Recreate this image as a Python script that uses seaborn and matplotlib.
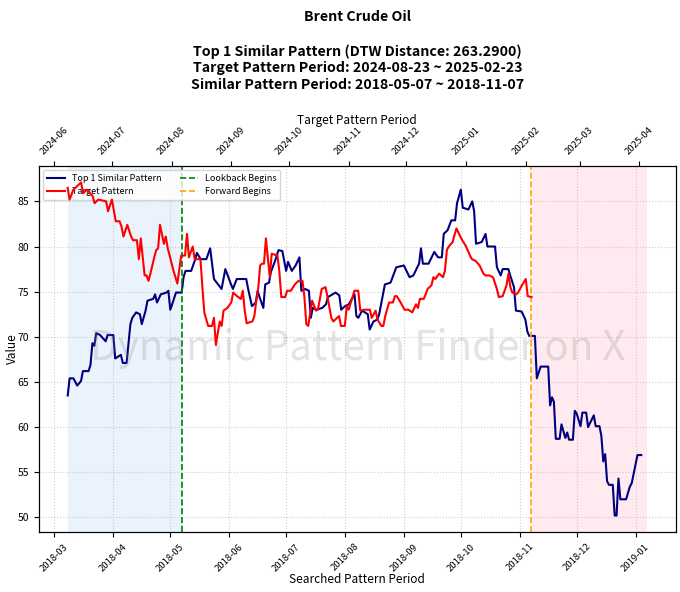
import matplotlib
matplotlib.use("Agg")
import matplotlib.pyplot as plt
import matplotlib.dates as mdates
import pandas as pd
import seaborn as sns

# searched (similar) pattern, 2018
similar_dates = [
    "2018-03-08", "2018-03-09", "2018-03-11", "2018-03-13", "2018-03-15", "2018-03-16",
    "2018-03-19", "2018-03-20", "2018-03-21", "2018-03-22", "2018-03-23", "2018-03-25",
    "2018-03-28", "2018-03-29", "2018-04-01", "2018-04-02", "2018-04-05", "2018-04-06",
    "2018-04-08", "2018-04-10", "2018-04-11", "2018-04-13", "2018-04-15", "2018-04-16",
    "2018-04-18", "2018-04-19", "2018-04-22", "2018-04-23", "2018-04-24", "2018-04-26",
    "2018-04-29", "2018-04-30", "2018-05-01", "2018-05-02", "2018-05-04", "2018-05-07",
    "2018-05-08", "2018-05-09", "2018-05-12", "2018-05-14", "2018-05-15", "2018-05-17",
    "2018-05-20", "2018-05-22", "2018-05-24", "2018-05-28", "2018-05-30", "2018-06-02",
    "2018-06-03", "2018-06-05", "2018-06-10", "2018-06-11", "2018-06-13", "2018-06-15",
    "2018-06-16", "2018-06-17", "2018-06-19", "2018-06-20", "2018-06-22", "2018-06-23",
    "2018-06-25", "2018-06-27", "2018-06-29", "2018-07-01", "2018-07-02", "2018-07-04",
    "2018-07-06", "2018-07-08", "2018-07-09", "2018-07-11", "2018-07-13", "2018-07-14",
    "2018-07-15", "2018-07-17", "2018-07-20", "2018-07-22", "2018-07-23", "2018-07-27",
    "2018-07-29", "2018-07-30", "2018-08-01", "2018-08-03", "2018-08-06", "2018-08-07",
    "2018-08-08", "2018-08-10", "2018-08-13", "2018-08-14", "2018-08-16", "2018-08-18",
    "2018-08-19", "2018-08-21", "2018-08-22", "2018-08-25", "2018-08-28", "2018-09-01",
    "2018-09-04", "2018-09-06", "2018-09-09", "2018-09-10", "2018-09-11", "2018-09-14",
    "2018-09-17", "2018-09-19", "2018-09-21", "2018-09-22", "2018-09-24", "2018-09-26",
    "2018-09-28", "2018-09-29", "2018-10-01", "2018-10-02", "2018-10-05", "2018-10-07",
    "2018-10-08", "2018-10-09", "2018-10-12", "2018-10-14", "2018-10-15", "2018-10-19",
    "2018-10-20", "2018-10-22", "2018-10-23", "2018-10-26", "2018-10-27", "2018-10-29",
    "2018-10-30", "2018-11-02", "2018-11-04", "2018-11-05", "2018-11-06", "2018-11-09",
    "2018-11-10", "2018-11-12", "2018-11-16", "2018-11-17", "2018-11-18", "2018-11-19",
    "2018-11-20", "2018-11-22", "2018-11-23", "2018-11-25", "2018-11-26", "2018-11-27",
    "2018-11-29", "2018-11-30", "2018-12-01", "2018-12-03", "2018-12-04", "2018-12-06",
    "2018-12-07", "2018-12-10", "2018-12-11", "2018-12-13", "2018-12-14", "2018-12-15",
    "2018-12-16", "2018-12-17", "2018-12-18", "2018-12-20", "2018-12-21", "2018-12-22",
    "2018-12-23", "2018-12-24", "2018-12-27", "2018-12-29", "2018-12-30", "2019-01-02",
    "2019-01-04",
]
similar_values = [
    63.5, 65.4, 65.4, 64.6, 65.1, 66.2,
    66.2, 66.9, 69.3, 69.0, 70.4, 70.2,
    69.5, 70.2, 70.2, 67.6, 68.0, 67.1,
    67.1, 71.4, 72.1, 72.7, 72.5, 71.4,
    72.9, 74.0, 74.2, 74.7, 73.8, 74.7,
    74.9, 75.1, 73.0, 73.6, 74.9, 74.9,
    76.6, 77.3, 77.3, 78.5, 79.3, 78.6,
    78.6, 79.8, 76.4, 75.3, 77.5, 75.8,
    75.3, 76.4, 76.4, 75.3, 73.4, 73.8,
    75.1, 74.4, 73.2, 75.8, 76.0, 77.2,
    78.3, 79.6, 79.5, 77.3, 78.3, 77.3,
    77.9, 78.8, 75.1, 75.3, 75.1, 72.1,
    73.2, 73.0, 73.2, 73.6, 74.4, 74.9,
    74.6, 73.0, 73.4, 73.6, 74.7, 72.3,
    72.1, 72.9, 72.5, 70.8, 71.7, 71.9,
    72.5, 74.7, 75.8, 76.0, 77.7, 77.9,
    76.6, 76.8, 78.1, 79.8, 78.1, 78.1,
    79.4, 78.8, 78.8, 81.4, 81.8, 82.9,
    82.9, 84.8, 86.3, 84.3, 84.1, 85.0,
    83.9, 80.3, 80.5, 81.4, 80.0, 80.0,
    77.7, 76.8, 77.5, 77.5, 76.8, 75.5,
    72.9, 72.8, 71.9, 70.6, 70.1, 70.1,
    65.4, 66.7, 66.7, 62.4, 63.3, 62.8,
    58.7, 58.7, 60.3, 58.8, 59.4, 58.6,
    58.6, 61.8, 61.5, 60.1, 61.6, 61.6,
    60.0, 61.3, 60.1, 60.1, 59.0, 56.2,
    57.0, 54.0, 53.6, 53.6, 50.2, 50.2,
    54.3, 52.0, 52.0, 53.4, 53.8, 56.9,
    56.9,
]

# target pattern, 2024-2025 (top axis)
target_dates = [
    "2024-06-08", "2024-06-09", "2024-06-11", "2024-06-13", "2024-06-15", "2024-06-16",
    "2024-06-18", "2024-06-21", "2024-06-22", "2024-06-24", "2024-06-28", "2024-06-29",
    "2024-07-01", "2024-07-03", "2024-07-05", "2024-07-06", "2024-07-07", "2024-07-09",
    "2024-07-11", "2024-07-12", "2024-07-14", "2024-07-15", "2024-07-16", "2024-07-18",
    "2024-07-19", "2024-07-20", "2024-07-21", "2024-07-23", "2024-07-24", "2024-07-25",
    "2024-07-26", "2024-07-28", "2024-07-29", "2024-07-30", "2024-07-31", "2024-08-02",
    "2024-08-04", "2024-08-06", "2024-08-08", "2024-08-09", "2024-08-10", "2024-08-12",
    "2024-08-13", "2024-08-16", "2024-08-17", "2024-08-18", "2024-08-20", "2024-08-22",
    "2024-08-23", "2024-08-24", "2024-08-26", "2024-08-27", "2024-08-28", "2024-08-30",
    "2024-09-01", "2024-09-02", "2024-09-04", "2024-09-06", "2024-09-07", "2024-09-08",
    "2024-09-09", "2024-09-12", "2024-09-13", "2024-09-14", "2024-09-15", "2024-09-16",
    "2024-09-17", "2024-09-18", "2024-09-19", "2024-09-20", "2024-09-21", "2024-09-22",
    "2024-09-25", "2024-09-26", "2024-09-27", "2024-09-29", "2024-09-30", "2024-10-02",
    "2024-10-04", "2024-10-05", "2024-10-06", "2024-10-08", "2024-10-09", "2024-10-10",
    "2024-10-11", "2024-10-13", "2024-10-15", "2024-10-16", "2024-10-18", "2024-10-20",
    "2024-10-21", "2024-10-23", "2024-10-24", "2024-10-27", "2024-10-28", "2024-10-30",
    "2024-10-31", "2024-11-01", "2024-11-04", "2024-11-06", "2024-11-07", "2024-11-09",
    "2024-11-12", "2024-11-13", "2024-11-15", "2024-11-16", "2024-11-18", "2024-11-19",
    "2024-11-20", "2024-11-22", "2024-11-24", "2024-11-25", "2024-11-26", "2024-11-28",
    "2024-11-30", "2024-12-02", "2024-12-04", "2024-12-06", "2024-12-07", "2024-12-08",
    "2024-12-10", "2024-12-11", "2024-12-12", "2024-12-14", "2024-12-15", "2024-12-16",
    "2024-12-18", "2024-12-20", "2024-12-21", "2024-12-22", "2024-12-23", "2024-12-25",
    "2024-12-26", "2024-12-27", "2024-12-29", "2024-12-30", "2025-01-01", "2025-01-03",
    "2025-01-04", "2025-01-06", "2025-01-08", "2025-01-10", "2025-01-11", "2025-01-13",
    "2025-01-15", "2025-01-17", "2025-01-18", "2025-01-20", "2025-01-22", "2025-01-23",
    "2025-01-24", "2025-01-25", "2025-01-27", "2025-01-28", "2025-01-30", "2025-02-01",
    "2025-02-02", "2025-02-04",
]
target_values = [
    86.5, 85.2, 86.3, 86.7, 87.1, 85.9,
    86.3, 85.6, 84.8, 85.2, 85.0, 83.9,
    85.2, 82.8, 82.8, 82.2, 81.1, 82.4,
    81.1, 80.7, 80.7, 78.6, 80.9, 76.8,
    76.8, 76.2, 77.0, 78.8, 79.6, 79.8,
    82.4, 80.3, 81.1, 79.8, 79.0, 77.3,
    75.9, 79.0, 79.0, 81.4, 78.8, 80.0,
    78.6, 78.6, 75.5, 72.7, 71.2, 71.2,
    72.1, 69.1, 71.7, 71.2, 72.9, 73.2,
    73.8, 74.9, 74.5, 74.2, 75.1, 72.9,
    71.5, 71.7, 72.3, 74.0, 75.3, 77.9,
    78.1, 78.1, 80.9, 78.8, 76.6, 79.2,
    79.0, 77.2, 74.4, 74.4, 75.1, 75.1,
    75.8, 76.0, 76.2, 76.2, 74.4, 71.4,
    71.2, 74.0, 72.9, 73.0, 75.3, 75.5,
    74.4, 72.1, 71.7, 72.3, 71.2, 71.2,
    73.4, 73.0, 75.1, 75.1, 72.9, 73.0,
    73.0, 72.1, 72.9, 71.9, 71.2, 71.2,
    72.3, 73.8, 73.8, 74.5, 74.5, 73.8,
    73.0, 73.0, 72.7, 73.6, 73.2, 74.2,
    74.2, 74.7, 75.3, 75.7, 76.6, 76.4,
    77.0, 76.6, 77.3, 79.6, 80.0, 80.5,
    81.3, 82.0, 81.1, 80.7, 80.0, 79.0,
    78.6, 78.4, 77.9, 77.0, 76.8, 76.8,
    76.6, 75.3, 74.4, 74.5, 75.7, 77.0,
    75.5, 74.9, 74.7, 74.9, 75.7, 76.4,
    74.5, 74.4,
]

lookback_start = "2018-03-08"
lookback_begins = "2018-05-07"
forward_begins = "2018-11-07"
forward_end = "2019-01-07"
top_range = ("2024-05-24", "2025-04-20")

title_text = ("Brent Crude Oil\n\n"
              "Top 1 Similar Pattern (DTW Distance: 263.2900)\n"
              "Target Pattern Period: 2024-08-23 ~ 2025-02-23\n"
              "Similar Pattern Period: 2018-05-07 ~ 2018-11-07")

plt.rcParams['font.family'] = ['Noto Sans CJK KR', 'DejaVu Sans']

similar = pd.DataFrame({"date": pd.to_datetime(similar_dates), "value": similar_values})
target = pd.DataFrame({"date": pd.to_datetime(target_dates), "value": target_values})

fig, ax = plt.subplots(figsize=(6.8, 5.92), dpi=100)
fig.subplots_adjust(left=0.057, right=0.994, bottom=0.101, top=0.72)

ax.axvspan(pd.Timestamp(lookback_start), pd.Timestamp(lookback_begins),
           color='#3a8fd9', alpha=0.1, lw=0)
ax.axvspan(pd.Timestamp(forward_begins), pd.Timestamp(forward_end),
           color='pink', alpha=0.3, lw=0)
sns.lineplot(data=similar, x="date", y="value", ax=ax, color='navy',
             linewidth=1.5, label="Top 1 Similar Pattern")
vl1 = ax.axvline(pd.Timestamp(lookback_begins), color='green', linestyle='--',
                 linewidth=1.2, label="Lookback Begins")
vl2 = ax.axvline(pd.Timestamp(forward_begins), color='orange', linestyle='--',
                 linewidth=1.2, label="Forward Begins")

ax2 = ax.twiny()
sns.lineplot(data=target, x="date", y="value", ax=ax2, color='red',
             linewidth=1.5, label="Target Pattern", legend=False)
ax2.set_xlim(pd.Timestamp(top_range[0]), pd.Timestamp(top_range[1]))

for a in (ax, ax2):
    a.xaxis.set_major_locator(mdates.MonthLocator())
    a.xaxis.set_major_formatter(mdates.DateFormatter('%Y-%m'))
    a.tick_params(axis='x', labelsize=6.8, labelrotation=45)
ax.tick_params(axis='y', labelsize=7.5)

ax.grid(True, linestyle=':', linewidth=0.8, alpha=0.6)
ax.set_xlabel("Searched Pattern Period", fontsize=8.5, labelpad=0)
ax.set_ylabel("Value", fontsize=8.5, labelpad=-1)
ax2.set_xlabel("Target Pattern Period", fontsize=8.5, labelpad=0.5)

ax.text(0.5, 0.5, "Dynamic Pattern Finder on X", transform=ax.transAxes,
        fontsize=29, color='gray', alpha=0.22, ha='center', va='center')

blue_line = ax.get_lines()[0]
red_line = ax2.get_lines()[0]
ax.legend(handles=[blue_line, red_line, vl1, vl2], ncol=2, loc='upper left', fontsize=6.5)

# fixed title position (above the top date axis)
ax.set_title(title_text, fontsize=10.2, fontweight='bold', linespacing=1.24, y=1.21, pad=0)

plt.savefig("out.png", dpi=100)
